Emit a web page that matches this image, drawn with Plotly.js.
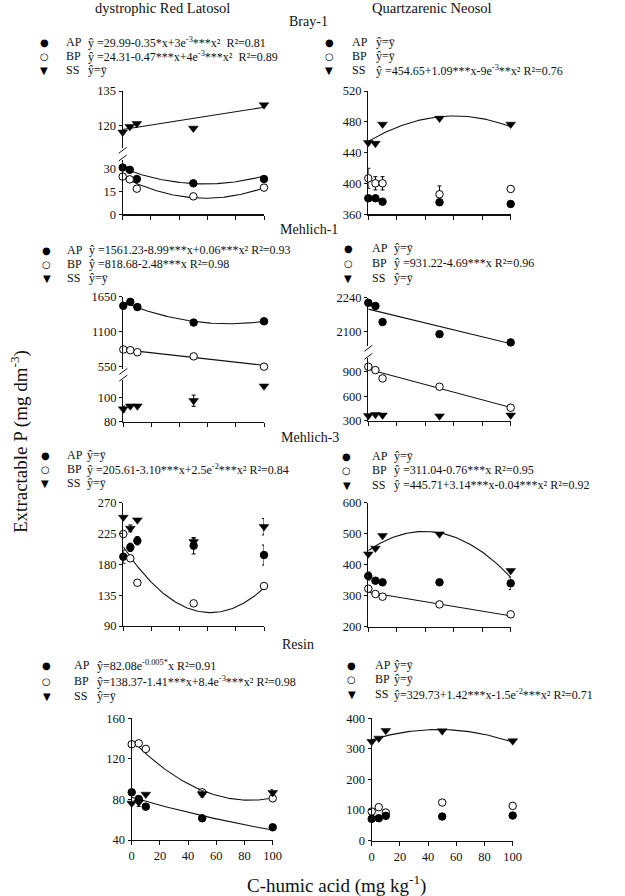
<!DOCTYPE html>
<html>
<head>
<meta charset="utf-8">
<script src="https://cdn.plot.ly/plotly-3.0.1.min.js"></script>
<style>
  html, body { margin: 0; padding: 0; background: #fff; }
  #chart { width: 625px; height: 896px; }
</style>
</head>
<body>
<div id="chart"></div>
<script>
// ---- data: extractable P vs C-humic acid dose ----
const doses = [0, 5, 10, 50, 100];
const xTicks = [0, 20, 40, 60, 80, 100];
const lineX = [0, 100];

// Bray-1
const brayLatAP = [30.5, 29.0, 23.0, 20.2, 23.0];
const brayLatBP = [24.6, 22.8, 16.7, 11.7, 17.4];
const brayLatSS = [117.3, 119.7, 121.0, 119.0, 129.0];
const brayLatSSline = [118.5, 128.0];
const brayNeoAP = [380.8, 380.8, 376.4, 375.6, 373.4];
const brayNeoBP = [406.7, 400.2, 400.2, 386.0, 392.9];
const brayNeoBPsd = [13, 8.6, 8.6, 10.8, 0];
const brayNeoSS = [453.0, 452.0, 476.8, 484.5, 476.8];

// Mehlich-1
const m1LatAP = [1507, 1569, 1487, 1243, 1263];
const m1LatBP = [820, 809, 777, 712, 550];
const m1LatSS = [90.6, 93.0, 93.0, 97.5, 109.7];
const m1LatSSsd = [2.5, 0, 0, 4.7, 0];
const m1NeoAP = [2219, 2206, 2140, 2090, 2056];
const m1NeoAPline = [2193, 2051];
const m1NeoBP = [961, 920, 818, 716, 459];
const m1NeoSS = [361, 375, 368, 357, 368];

// Mehlich-3
const m3LatAP = [191.2, 204.8, 214.5, 207.2, 193.6];
const m3LatAPsd = [9.7, 6, 6, 12, 14.6];
const m3LatBP = [224.3, 188.8, 153.2, 123.1, 148.4];
const m3LatSS = [248.6, 232.5, 244.7, 213.1, 235.0];
const m3LatSSsd = [0, 5, 0, 5, 12];
const m3NeoAP = [363.5, 348.4, 343.0, 343.0, 340.0];
const m3NeoAPsd = [13, 0, 0, 0, 20];
const m3NeoBP = [322.6, 305.4, 296.8, 272.0, 239.9];
const m3NeoSS = [434.4, 452.7, 493.6, 499.0, 380.7];

// Resin
const resLatAP = [87.0, 80.4, 72.9, 61.4, 52.5];
const resLatBP = [134.4, 135.3, 129.8, 87.0, 81.1];
const resLatSS = [76.2, 77.2, 85.0, 85.4, 86.7];
const resLatSSsd = [0, 4, 0, 3, 3];
const resNeoAP = [70.8, 73.0, 80.7, 78.5, 81.7];
const resNeoBP = [94.8, 109.0, 91.6, 124.3, 113.4];
const resNeoBPsd = [0, 0, 0, 8, 0];
const resNeoSS = [323.7, 334.6, 359.7, 358.6, 325.9];

// regression coefficients (a + b*x + c*x^2) as printed in the legends
const fitBrayLatAP = [29.99, -0.35, 3e-3];
const fitBrayLatBP = [24.31, -0.47, 4e-3];
const fitBrayNeoSS = [454.65, 1.09, -9e-3];
const fitM1LatAP = [1561.23, -8.99, 0.06];
const fitM1LatBP = [818.68, -2.48];
const fitM1NeoBP = [931.22, -4.69];
const fitM3LatBP = [205.61, -3.10, 2.5e-2];
const fitM3NeoBP = [311.04, -0.76];
const fitM3NeoSS = [445.71, 3.14, -0.04];
const fitResLatAP = [82.08, -0.005];          // a * exp(b*x)
const fitResLatBP = [138.37, -1.41, 8.4e-3];
const fitResNeoSS = [329.73, 1.42, -1.5e-2];

// y tick values per axis
const ticksBrayLatLow = [0, 15, 30];
const ticksBrayLatHigh = [120, 135];
const ticksBrayNeo = [360, 400, 440, 480, 520];
const ticksM1LatLow = [80, 100];
const ticksM1LatHigh = [550, 1100, 1650];
const ticksM1NeoLow = [300, 600, 900];
const ticksM1NeoHigh = [2100, 2240];
const ticksM3Lat = [90, 135, 180, 225, 270];
const ticksM3Neo = [200, 300, 400, 500, 600];
const ticksResLat = [40, 80, 120, 160];
const ticksResNeo = [0, 100, 200, 300, 400];

// ---- helpers ----
const W = 625, H = 896;
const FONT = 'Liberation Serif, Times New Roman, serif';
const fx = p => p / W;
const fy = p => 1 - p / H;
const curveX = [];
for (let x = 0; x <= 100; x += 1) curveX.push(x);
const polyCurve = c => curveX.map(x => c.reduce((s, k, i) => s + k * Math.pow(x, i), 0));
const expCurve = c => curveX.map(x => c[0] * Math.exp(c[1] * x));

const traces = [];
function fitLine(xs, ys, xa, ya) {
  traces.push({x: xs, y: ys, xaxis: xa, yaxis: ya, mode: 'lines', type: 'scatter',
    line: {color: '#111', width: 1.1}, hoverinfo: 'skip', cliponaxis: false});
}
const STYLE = {
  AP: {symbol: 'circle', size: 7.5, color: '#000', line: {color: '#000', width: 1}},
  BP: {symbol: 'circle', size: 7.5, color: '#fff', line: {color: '#000', width: 1}},
  SS: {symbol: 'triangle-down', size: 8.5, color: '#000', line: {color: '#000', width: 0.5}}
};
function points(ys, kind, xa, ya, sd) {
  const t = {x: doses, y: ys, xaxis: xa, yaxis: ya, mode: 'markers', type: 'scatter',
    marker: STYLE[kind], cliponaxis: false, name: kind};
  if (sd) t.error_y = {type: 'data', array: sd, visible: true, color: '#000', thickness: 1, width: 2};
  traces.push(t);
}

// Bray-1
fitLine(lineX, brayLatSSline, 'x', 'y2');
fitLine(curveX, polyCurve(fitBrayLatAP), 'x', 'y');
fitLine(curveX, polyCurve(fitBrayLatBP), 'x', 'y');
points(brayLatSS, 'SS', 'x', 'y2');
points(brayLatAP, 'AP', 'x', 'y');
points(brayLatBP, 'BP', 'x', 'y');
fitLine(curveX, polyCurve(fitBrayNeoSS), 'x2', 'y3');
points(brayNeoSS, 'SS', 'x2', 'y3');
points(brayNeoBP, 'BP', 'x2', 'y3', brayNeoBPsd);
points(brayNeoAP, 'AP', 'x2', 'y3');

// Mehlich-1
fitLine(curveX, polyCurve(fitM1LatAP), 'x3', 'y5');
fitLine(curveX, polyCurve(fitM1LatBP), 'x3', 'y5');
points(m1LatAP, 'AP', 'x3', 'y5');
points(m1LatBP, 'BP', 'x3', 'y5');
points(m1LatSS, 'SS', 'x3', 'y4', m1LatSSsd);
fitLine(lineX, m1NeoAPline, 'x4', 'y7');
fitLine(curveX, polyCurve(fitM1NeoBP), 'x4', 'y6');
points(m1NeoAP, 'AP', 'x4', 'y7');
points(m1NeoBP, 'BP', 'x4', 'y6');
points(m1NeoSS, 'SS', 'x4', 'y6');

// Mehlich-3
fitLine(curveX, polyCurve(fitM3LatBP), 'x5', 'y8');
points(m3LatSS, 'SS', 'x5', 'y8', m3LatSSsd);
points(m3LatAP, 'AP', 'x5', 'y8', m3LatAPsd);
points(m3LatBP, 'BP', 'x5', 'y8');
fitLine(curveX, polyCurve(fitM3NeoBP), 'x6', 'y9');
fitLine(curveX, polyCurve(fitM3NeoSS), 'x6', 'y9');
points(m3NeoSS, 'SS', 'x6', 'y9');
points(m3NeoAP, 'AP', 'x6', 'y9', m3NeoAPsd);
points(m3NeoBP, 'BP', 'x6', 'y9');

// Resin
fitLine(curveX, expCurve(fitResLatAP), 'x7', 'y10');
fitLine(curveX, polyCurve(fitResLatBP), 'x7', 'y10');
points(resLatBP, 'BP', 'x7', 'y10');
points(resLatSS, 'SS', 'x7', 'y10', resLatSSsd);
points(resLatAP, 'AP', 'x7', 'y10');
fitLine(curveX, polyCurve(fitResNeoSS), 'x8', 'y11');
points(resNeoSS, 'SS', 'x8', 'y11');
points(resNeoBP, 'BP', 'x8', 'y11', resNeoBPsd);
points(resNeoAP, 'AP', 'x8', 'y11');

// ---- axes ----
const tickFont = {family: FONT, size: 12.5, color: '#111'};
function xAxis(left, right, anchor, labels) {
  return {domain: [fx(left), fx(right)], anchor: anchor, range: [0, 100],
    tickvals: xTicks, ticktext: xTicks.map(String), showticklabels: labels,
    ticks: 'outside', ticklen: 4, tickwidth: 1, tickcolor: '#111',
    showline: true, linecolor: '#111', linewidth: 1.2,
    showgrid: false, zeroline: false, tickfont: tickFont, fixedrange: true};
}
function yAxis(top, bottom, range, ticks, anchor) {
  return {domain: [fy(bottom), fy(top)], anchor: anchor, range: range,
    tickvals: ticks, ticktext: ticks.map(String),
    ticks: 'outside', ticklen: 3, tickwidth: 1, tickcolor: '#111',
    showline: true, linecolor: '#111', linewidth: 1.2,
    showgrid: false, zeroline: false, tickfont: tickFont, fixedrange: true};
}

const layout = {
  width: W, height: H,
  margin: {l: 0, r: 0, t: 0, b: 0},
  paper_bgcolor: '#fff', plot_bgcolor: 'rgba(0,0,0,0)',
  showlegend: false,
  font: {family: FONT, color: '#111'},
  xaxis:  xAxis(122.7, 264, 'y', false),
  yaxis:  yAxis(160, 214.3, [0, 35.4], ticksBrayLatLow, 'x'),
  yaxis2: yAxis(91, 148.3, [110.4, 135], ticksBrayLatHigh, 'x'),
  xaxis2: xAxis(368.3, 510.7, 'y3', false),
  yaxis3: yAxis(91, 214.3, [360, 520], ticksBrayNeo, 'x2'),
  xaxis3: xAxis(123.3, 264, 'y4', false),
  yaxis4: yAxis(380.1, 421.7, [80, 114.7], ticksM1LatLow, 'x3'),
  yaxis5: yAxis(296.7, 369.4, [507, 1650], ticksM1LatHigh, 'x3'),
  xaxis4: xAxis(368.3, 510.7, 'y6', false),
  yaxis6: yAxis(358.4, 420.7, [300, 1063], ticksM1NeoLow, 'x4'),
  yaxis7: yAxis(297.7, 346.3, [2040, 2240], ticksM1NeoHigh, 'x4'),
  xaxis5: xAxis(123.3, 264, 'y8', false),
  yaxis8: yAxis(502.7, 626, [90, 270], ticksM3Lat, 'x5'),
  xaxis6: xAxis(368.3, 510.7, 'y9', false),
  yaxis9: yAxis(502.7, 626.7, [200, 600], ticksM3Neo, 'x6'),
  xaxis7: xAxis(131.7, 272.7, 'y10', true),
  yaxis10: yAxis(718.3, 840, [40, 160], ticksResLat, 'x7'),
  xaxis8: xAxis(371.7, 512.7, 'y11', true),
  yaxis11: yAxis(718.3, 840.5, [0, 400], ticksResNeo, 'x8'),
  annotations: [],
  shapes: []
};

// axis-break marks ("//") on the broken y axes
function breakMarks(axX, yTop, yBottom) {
  [yTop + 2, yBottom - 2].forEach(y => {
    layout.shapes.push({type: 'line', xref: 'paper', yref: 'paper',
      x0: fx(axX - 4), y0: fy(y + 3), x1: fx(axX + 4), y1: fy(y - 3),
      line: {color: '#111', width: 1}});
  });
}
breakMarks(122.7, 148.3, 160);
breakMarks(123.3, 369.4, 380.1);
breakMarks(368.3, 346.3, 358.4);

// ---- text ----
function text(str, x, y, size, xanchor, extra) {
  layout.annotations.push(Object.assign({text: str, x: fx(x), y: fy(y), xref: 'paper', yref: 'paper',
    showarrow: false, xanchor: xanchor || 'center', yanchor: 'middle',
    font: {family: FONT, size: size, color: '#111'}}, extra || {}));
}
text('dystrophic Red Latosol', 162, 8, 14.5);
text('Quartzarenic Neosol', 432, 8, 14.5);
text('Bray-1', 308, 21, 14);
text('Mehlich-1', 309, 229, 14);
text('Mehlich-3', 310, 437, 14);
text('Resin', 298, 644, 14);

const SYMBOL = {AP: '●', BP: '○', SS: '▼'};
function legendBlock(symX, labX, eqX, rows, eqs) {
  ['AP', 'BP', 'SS'].forEach((k, i) => {
    layout.annotations.push({text: SYMBOL[k], x: fx(symX), y: fy(rows[i]), xref: 'paper', yref: 'paper',
      showarrow: false, xanchor: 'center', yanchor: 'middle',
      font: {family: 'DejaVu Sans', size: 10, color: '#000'}});
    text(k, labX, rows[i], 12, 'left');
    text(eqs[i], eqX, rows[i], 12, 'left');
  });
}
const YBAR = 'ŷ=ȳ';
legendBlock(44, 64, 86, [42, 56, 70], [
  'ŷ =29.99-0.35*x+3e<sup>-3</sup>***x²  R²=0.81',
  'ŷ =24.31-0.47***x+4e<sup>-3</sup>***x²  R²=0.89',
  YBAR]);
legendBlock(329, 350, 374, [42, 56, 70], [
  YBAR, YBAR,
  'ŷ =454.65+1.09***x-9e<sup>-3</sup>**x² R²=0.76']);
legendBlock(46.7, 65, 87, [250, 264, 278], [
  'ŷ =1561.23-8.99***x+0.06***x² R²=0.93',
  'ŷ =818.68-2.48***x R²=0.98',
  YBAR]);
legendBlock(348, 370, 392, [248, 263, 278], [
  YBAR,
  'ŷ =931.22-4.69***x R²=0.96',
  YBAR]);
legendBlock(45, 65, 85, [455, 469, 483], [
  YBAR,
  'ŷ =205.61-3.10***x+2.5e<sup>-2</sup>***x² R²=0.84',
  YBAR]);
legendBlock(346.7, 370, 391.7, [456, 470.5, 485], [
  YBAR,
  'ŷ =311.04-0.76***x R²=0.95',
  'ŷ =445.71+3.14***x-0.04***x² R²=0.92']);
legendBlock(46.7, 71.7, 95, [665, 681, 696], [
  'ŷ=82.08e<sup>-0.005*</sup>x R²=0.91',
  'ŷ=138.37-1.41***x+8.4e<sup>-3</sup>***x² R²=0.98',
  YBAR]);
legendBlock(351.7, 373, 391.7, [665, 679, 694], [
  YBAR, YBAR,
  'ŷ=329.73+1.42***x-1.5e<sup>-2</sup>***x² R²=0.71']);

// shared axis titles
text('C-humic acid (mg kg<sup>-1</sup>)', 336, 884, 19);
text('Extractable P (mg dm<sup>-3</sup>)', 19, 442, 19, 'center', {textangle: -90});

Plotly.newPlot('chart', traces, layout, {staticPlot: true, displayModeBar: false});
</script>
</body>
</html>
